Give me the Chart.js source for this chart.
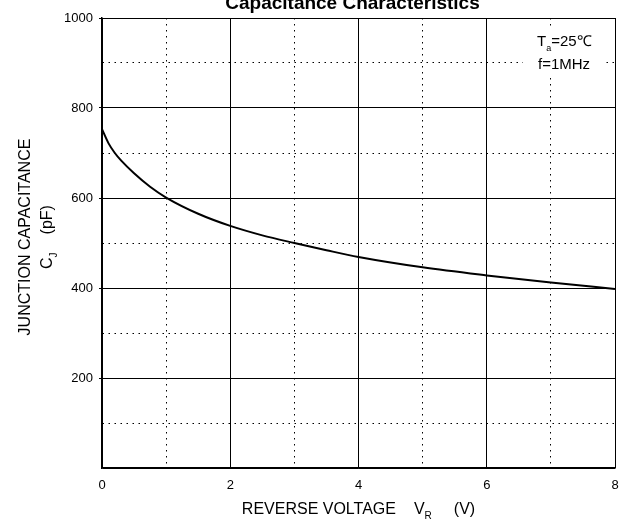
<!DOCTYPE html>
<html>
  <head>
    <script src="https://cdn.jsdelivr.net/npm/chart.js"></script>
    <style>
      body {
        margin: 0;
        padding: 0;
        background-color: white;
      }

      canvas {
        width: 622px !important;
        height: 525px !important;
      }
    </style>
  </head>
  <body>
    <canvas id="myChart" width="622" height="525"></canvas>

    <script>
      // curve
      const voltage = [0, 0.1, 0.2, 0.3, 0.5, 0.75, 1, 1.5, 2, 2.5, 3, 3.5, 4, 5, 6, 7, 8];
      const capacitance = [753, 722, 700, 683, 655, 625, 601, 565, 538, 517, 500, 484, 469, 446, 428, 412, 398];

      const xLabels = ['0', '2', '4', '6', '8'];
      const yLabels = ['200', '400', '600', '800', '1000'];

      const titleText = 'Capacitance Characteristics';
      const xTitle = ['REVERSE VOLTAGE', 'V', 'R', '(V)'];
      const yTitle1 = 'JUNCTION CAPACITANCE';
      const yTitle2 = ['C', 'J', '(pF)'];
      const noteLines = [['T', 'a', '=25℃'], ['f=1MHz', '', '']];

      const FONT = 'Arial, "Liberation Sans", sans-serif';

      const points = voltage.map((v, i) => ({ x: v, y: capacitance[i] }));

      const isMajorX = (c) => c.tick && xLabels.includes(String(c.tick.value));
      const isMajorY = (c) => c.tick && (c.tick.value === 0 || yLabels.includes(String(c.tick.value)));

      // draws a run like  T_a=25  with a small lowered middle part
      function drawSub(ctx, x, y, parts, size) {
        ctx.font = size + 'px ' + FONT;
        ctx.fillText(parts[0], x, y);
        x += ctx.measureText(parts[0]).width;
        if (parts[1]) {
          ctx.font = Math.round(size * 0.6) + 'px ' + FONT;
          ctx.fillText(parts[1], x, y + size * 0.3);
          x += ctx.measureText(parts[1]).width;
        }
        ctx.font = size + 'px ' + FONT;
        if (parts[2]) ctx.fillText(parts[2], x, y);
      }

      function subWidth(ctx, parts, size) {
        ctx.font = size + 'px ' + FONT;
        let w = ctx.measureText(parts[0]).width + ctx.measureText(parts[2] || '').width;
        ctx.font = Math.round(size * 0.6) + 'px ' + FONT;
        w += ctx.measureText(parts[1] || '').width;
        return w;
      }

      const textPlugin = {
        id: 'texts',
        afterDraw(chart) {
          const ctx = chart.ctx;
          const a = chart.chartArea;
          const cx = (a.left + a.right) / 2;
          ctx.save();
          ctx.fillStyle = '#000';
          ctx.textBaseline = 'alphabetic';

          // title, partly cut off at the top like the original
          ctx.font = 'bold 19px ' + FONT;
          ctx.textAlign = 'center';
          ctx.fillText(titleText, cx - 6, 9);

          // x axis title
          ctx.textAlign = 'left';
          const vw = subWidth(ctx, [xTitle[1], xTitle[2], ''], 16);
          ctx.font = '16px ' + FONT;
          const xw = ctx.measureText(xTitle[0]).width + 18 + vw + 22 + ctx.measureText(xTitle[3]).width;
          let x = cx - xw / 2;
          ctx.fillText(xTitle[0], x, 514);
          x += ctx.measureText(xTitle[0]).width + 18;
          drawSub(ctx, x, 514, [xTitle[1], xTitle[2], ''], 16);
          x += vw + 22;
          ctx.font = '16px ' + FONT;
          ctx.fillText(xTitle[3], x, 514);

          // y axis title, two rotated lines
          ctx.save();
          ctx.translate(0, 237);
          ctx.rotate(-Math.PI / 2);
          ctx.textAlign = 'center';
          ctx.font = '16px ' + FONT;
          ctx.fillText(yTitle1, 0, 30);
          ctx.textAlign = 'left';
          const w1 = subWidth(ctx, [yTitle2[0], yTitle2[1], ''], 16);
          ctx.font = '16px ' + FONT;
          const w2 = w1 + 18 + ctx.measureText(yTitle2[2]).width;
          drawSub(ctx, -w2 / 2, 52, [yTitle2[0], yTitle2[1], ''], 16);
          ctx.font = '16px ' + FONT;
          ctx.fillText(yTitle2[2], -w2 / 2 + w1 + 18, 52);
          ctx.restore();

          // condition note in the upper right corner
          ctx.fillStyle = '#fff';
          ctx.fillRect(a.right - 92, a.top + 9, 80, 50);
          ctx.fillStyle = '#000';
          drawSub(ctx, a.right - 78, a.top + 28, noteLines[0], 15);
          drawSub(ctx, a.right - 77, a.top + 51, noteLines[1], 15);
          ctx.restore();
        }
      };

      const ctx = document.getElementById('myChart').getContext('2d');
      new Chart(ctx, {
        type: 'scatter',
        data: {
          datasets: [{
            data: points,
            showLine: true,
            borderColor: '#000',
            borderWidth: 2,
            pointRadius: 0,
            cubicInterpolationMode: 'monotone'
          }]
        },
        options: {
          responsive: false,
          animation: false,
          layout: { padding: { left: 0, right: 0, top: 18, bottom: 0 } },
          plugins: {
            legend: { display: false },
            tooltip: { enabled: false }
          },
          scales: {
            x: {
              type: 'linear',
              min: 0,
              max: 8,
              afterFit: (s) => {
                s.height = 57;
                s.paddingLeft = 0;
                s.paddingRight = 7;
              },
              border: {
                color: '#000',
                width: 1.5,
                dash: (c) => (c.tick && !isMajorX(c) ? [1.5, 4.5] : [])
              },
              grid: {
                color: '#000',
                lineWidth: 1,
                drawTicks: false
              },
              ticks: {
                stepSize: 1,
                maxRotation: 0,
                padding: 10,
                color: '#000',
                font: { family: FONT, size: 13 },
                callback: (v) => (xLabels.includes(String(v)) ? String(v) : '')
              }
            },
            y: {
              min: 0,
              max: 1000,
              afterFit: (s) => { s.width = 102; },
              border: {
                color: '#000',
                width: 1.5,
                dash: (c) => (c.tick && !isMajorY(c) ? [1.5, 4.5] : [])
              },
              grid: {
                color: '#000',
                lineWidth: 1,
                tickLength: 3,
                tickColor: (c) => (isMajorY(c) && c.tick.value !== 0 ? '#000' : 'rgba(0,0,0,0)')
              },
              ticks: {
                stepSize: 100,
                padding: 6,
                color: '#000',
                font: { family: FONT, size: 13 },
                callback: (v) => (yLabels.includes(String(v)) ? String(v) : '')
              }
            }
          }
        },
        plugins: [textPlugin]
      });
    </script>
  </body>
</html>
